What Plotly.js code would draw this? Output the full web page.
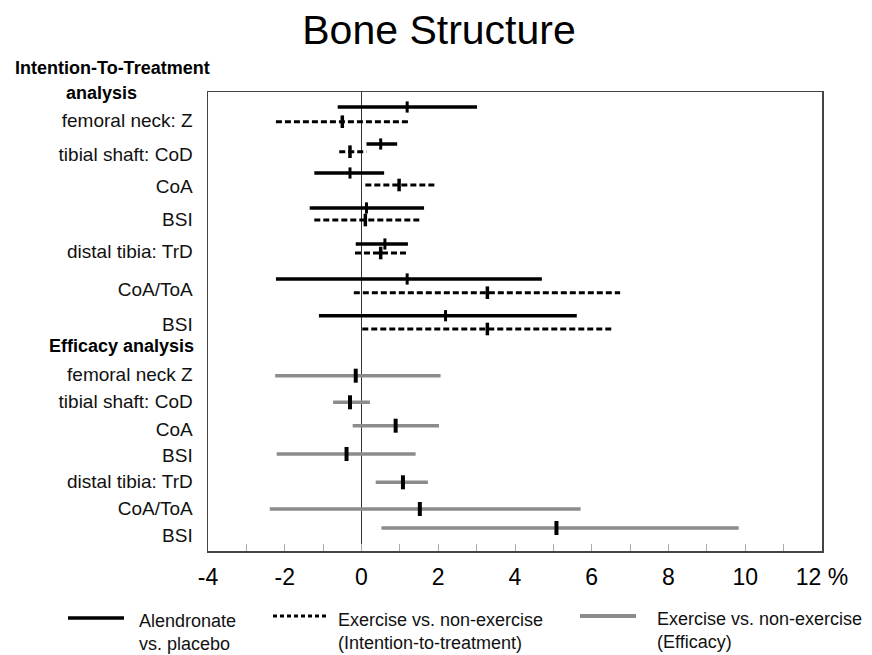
<!DOCTYPE html>
<html>
<head>
<meta charset="utf-8">
<script src="https://cdn.plot.ly/plotly-3.0.1.min.js"></script>
<style>html,body{margin:0;padding:0;background:#fff;}#chart{width:872px;height:655px;}</style>
</head>
<body>
<div id="chart"></div>
<script>
// ---------- DATA ----------
const ittLabels = ['femoral neck: Z', 'tibial shaft: CoD', 'CoA', 'BSI', 'distal tibia: TrD', 'CoA/ToA', 'BSI'];
const effLabels = ['femoral neck Z', 'tibial shaft: CoD', 'CoA', 'BSI', 'distal tibia: TrD', 'CoA/ToA', 'BSI'];

// Alendronate vs. placebo (ITT)
const alnEst = [1.19, 0.50, -0.30, 0.13, 0.61, 1.19, 2.19];
const alnLo  = [-0.62, 0.13, -1.23, -1.35, -0.15, -2.23, -1.11];
const alnHi  = [3.01, 0.93, 0.59, 1.63, 1.21, 4.70, 5.61];

// Exercise vs. non-exercise (Intention-to-treatment)
const ittEst = [-0.50, -0.30, 0.98, 0.10, 0.50, 3.28, 3.28];
const ittLo  = [-2.23, -0.58, 0.10, -1.23, -0.17, -0.20, 0.02];
const ittHi  = [1.21, 0.13, 1.93, 1.56, 1.21, 6.74, 6.58];

// Exercise vs. non-exercise (Efficacy)
const effEst = [-0.15, -0.30, 0.89, -0.39, 1.08, 1.52, 5.08];
const effLo  = [-2.25, -0.74, -0.23, -2.21, 0.37, -2.39, 0.52];
const effHi  = [2.06, 0.22, 2.02, 1.41, 1.73, 5.71, 9.83];

const xTickVals = [-4, -3, -2, -1, 0, 1, 2, 3, 4, 5, 6, 7, 8, 9, 10, 11, 12];
const xTickText = ['-4', '', '-2', '', '0', '', '2', '', '4', '', '6', '', '8', '', '10', '', '12 %'];

const legendNames = ['Alendronate<br>vs. placebo', 'Exercise vs. non-exercise<br>(Intention-to-treatment)', 'Exercise vs. non-exercise<br>(Efficacy)'];

// ---------- LAYOUT (row positions, in plot-height units from top) ----------
const posAln = [15, 52, 81, 116, 152, 187, 223.7];
const posItt = [29.7, 59.7, 93, 128, 161, 200.7, 237];
const posEff = [283.7, 310.3, 333.7, 362, 390.3, 417, 436];
const posIttLabel = [28, 62, 94, 127, 159, 197, 232];
const posEffLabel = [282, 309.7, 337.3, 363, 389.7, 416.3, 443];

const FONT = 'Liberation Sans, Arial, Helvetica, sans-serif';
const L = 208, R = 822, T = 92, B = 551, W = 872, H = 655;
const px = x => (x - L) / (R - L);
const py = y => (B - y) / (B - T);

function segs(lo, hi, pos) {
  const xs = [], ys = [];
  for (let i = 0; i < lo.length; i++) { xs.push(lo[i], hi[i], null); ys.push(pos[i], pos[i], null); }
  return {x: xs, y: ys};
}

const sA = segs(alnLo, alnHi, posAln);
const sI = segs(ittLo, ittHi, posItt);
const sE = segs(effLo, effHi, posEff);

const traces = [
  {type: 'scatter', mode: 'lines', x: sA.x, y: sA.y, line: {color: '#000', width: 3.5}, hoverinfo: 'skip', name: 'Alendronate'},
  {type: 'scatter', mode: 'lines', x: sI.x, y: sI.y, line: {color: '#000', width: 3, dash: '6px,3px'}, hoverinfo: 'skip', name: 'ITT'},
  {type: 'scatter', mode: 'lines', x: sE.x, y: sE.y, line: {color: '#8c8c8c', width: 3.5}, hoverinfo: 'skip', name: 'Efficacy'},
  {type: 'scatter', mode: 'markers', x: alnEst, y: posAln, marker: {symbol: 'line-ns', size: 8, line: {color: '#000', width: 3}}},
  {type: 'scatter', mode: 'markers', x: ittEst, y: posItt, marker: {symbol: 'line-ns', size: 9, line: {color: '#000', width: 3.5}}},
  {type: 'scatter', mode: 'markers', x: effEst, y: posEff, marker: {symbol: 'line-ns', size: 10, line: {color: '#000', width: 4}}}
];

const annotations = [
  {xref: 'paper', yref: 'paper', x: px(112), y: py(68), text: '<b>Intention-To-Treatment</b>', showarrow: false, xanchor: 'center', yanchor: 'middle', font: {family: FONT, size: 18, color: '#000'}},
  {xref: 'paper', yref: 'paper', x: px(101), y: py(93), text: '<b>analysis</b>', showarrow: false, xanchor: 'center', yanchor: 'middle', font: {family: FONT, size: 18, color: '#000'}},
  {xref: 'paper', yref: 'paper', x: px(196), y: py(345.7), text: '<b>Efficacy analysis</b>', showarrow: false, xanchor: 'right', yanchor: 'middle', font: {family: FONT, size: 18, color: '#000'}},
  {xref: 'paper', yref: 'paper', x: px(137), y: py(632.5), text: legendNames[0], showarrow: false, xanchor: 'left', yanchor: 'middle', align: 'left', font: {family: FONT, size: 18, color: '#111'}},
  {xref: 'paper', yref: 'paper', x: px(336), y: py(631.5), text: legendNames[1], showarrow: false, xanchor: 'left', yanchor: 'middle', align: 'left', font: {family: FONT, size: 18, color: '#111'}},
  {xref: 'paper', yref: 'paper', x: px(655), y: py(630.5), text: legendNames[2], showarrow: false, xanchor: 'left', yanchor: 'middle', align: 'left', font: {family: FONT, size: 18, color: '#111'}}
];

const shapes = [
  {type: 'line', xref: 'paper', yref: 'paper', x0: px(68), x1: px(124), y0: py(618), y1: py(618), line: {color: '#000', width: 3.5}},
  {type: 'line', xref: 'paper', yref: 'paper', x0: px(273), x1: px(326), y0: py(616), y1: py(616), line: {color: '#000', width: 3, dash: '4px,3px'}},
  {type: 'line', xref: 'paper', yref: 'paper', x0: px(580), x1: px(636), y0: py(616), y1: py(616), line: {color: '#8c8c8c', width: 4}}
];

const layout = {
  width: W, height: H,
  margin: {l: L, r: W - R, t: T, b: H - B, pad: 0},
  paper_bgcolor: '#fff', plot_bgcolor: '#fff',
  showlegend: false,
  title: {text: 'Bone Structure', x: 439 / W, xanchor: 'center', y: 1 - 30 / H, yanchor: 'middle', font: {family: FONT, size: 41, color: '#000'}},
  xaxis: {
    range: [-4, 12], tickmode: 'array', tickvals: xTickVals, ticktext: xTickText,
    ticks: 'inside', ticklen: 7, tickwidth: 1, tickcolor: '#aaa',
    showgrid: false, zeroline: true, zerolinecolor: '#333', zerolinewidth: 1.5,
    showline: true, linecolor: '#444', linewidth: 1.5, mirror: true,
    ticklabelstandoff: 5,
    tickfont: {family: FONT, size: 23, color: '#000'}, fixedrange: true
  },
  yaxis: {
    range: [B - T, 0], tickmode: 'array',
    tickvals: posIttLabel.concat(posEffLabel), ticktext: ittLabels.concat(effLabels),
    ticks: '', showgrid: false, zeroline: false,
    showline: true, linecolor: '#444', linewidth: 1.5, mirror: true,
    ticklabelstandoff: 10,
    tickfont: {family: FONT, size: 19, color: '#111'}, fixedrange: true
  },
  annotations: annotations,
  shapes: shapes
};

Plotly.newPlot('chart', traces, layout, {displayModeBar: false, staticPlot: true});
</script>
</body>
</html>
